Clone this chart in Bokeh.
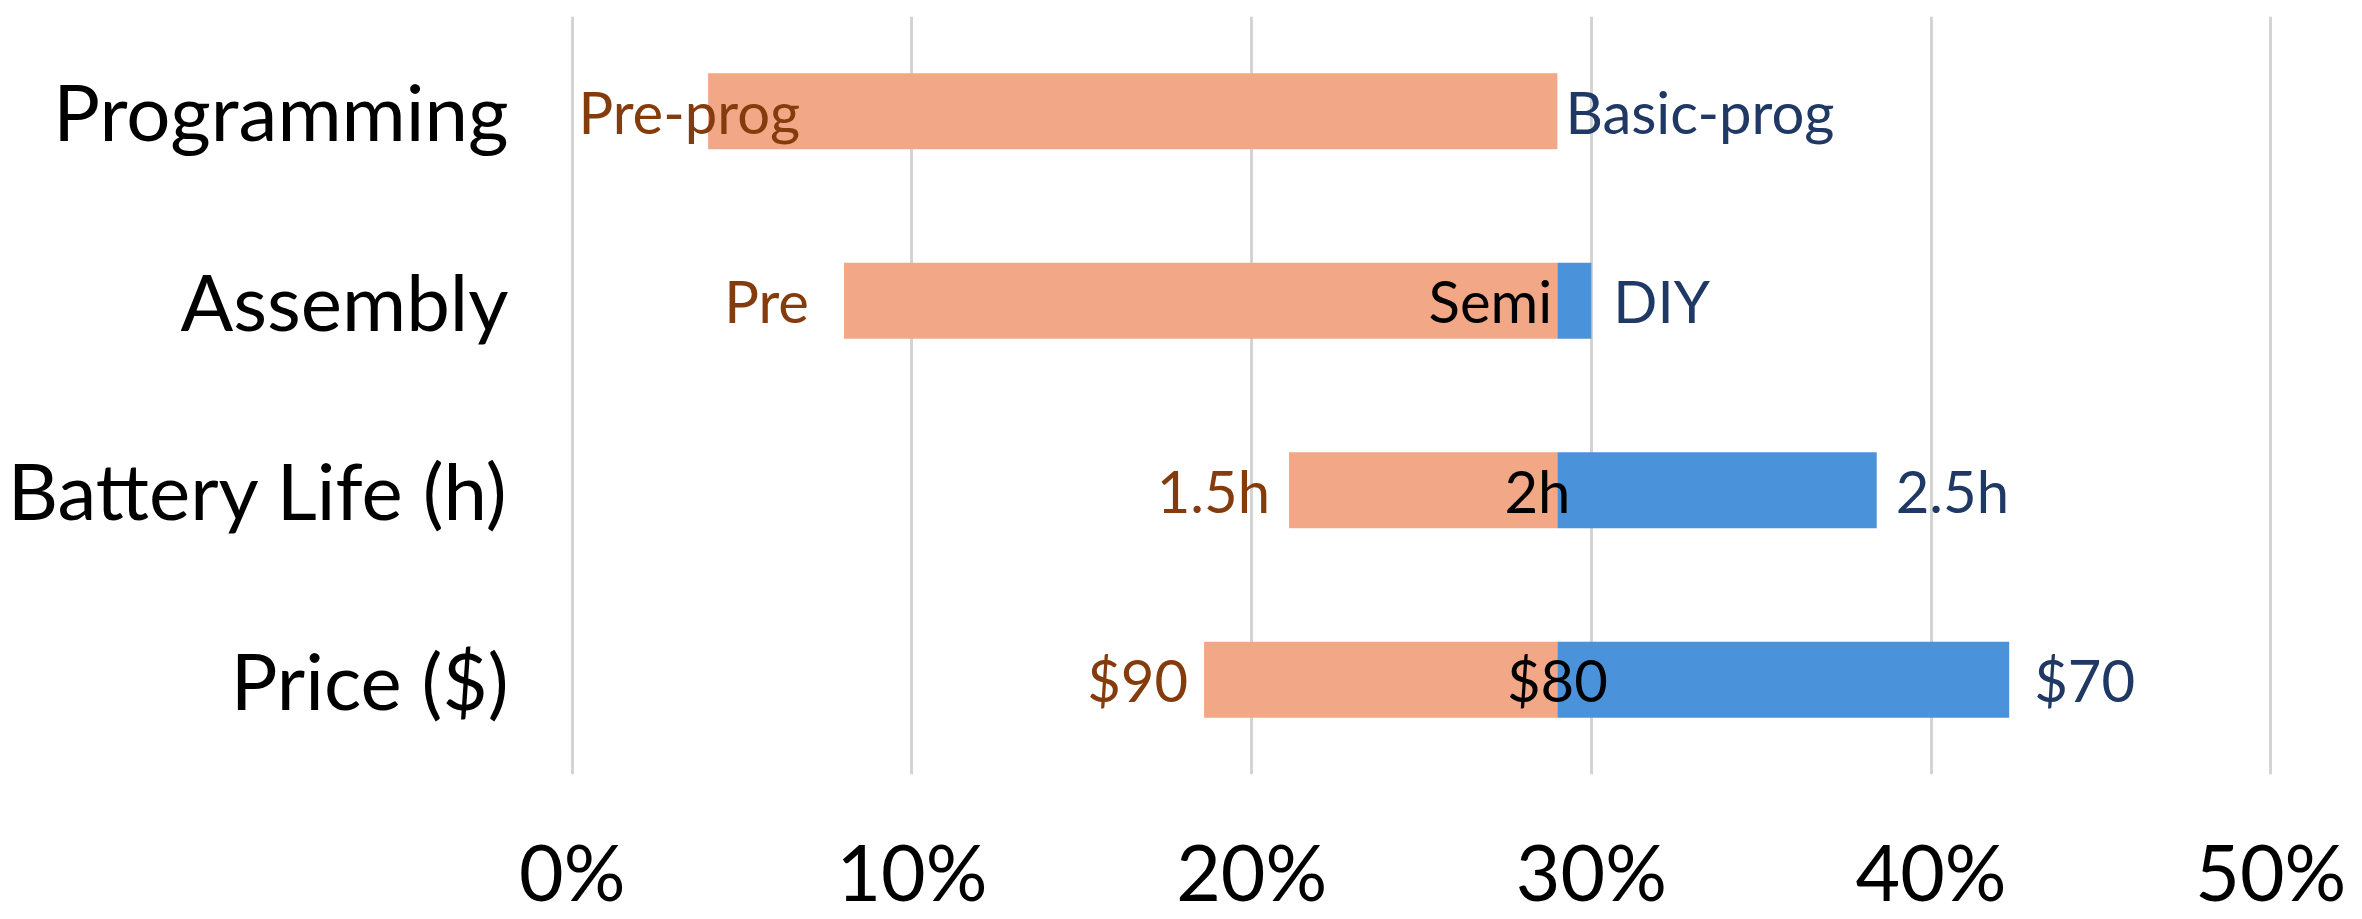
from bokeh.plotting import figure
from bokeh.models import ColumnDataSource, FixedTicker, NumeralTickFormatter, Range1d, FactorRange
from bokeh.core.properties import value
from bokeh.embed import file_html
from bokeh.resources import INLINE

# Attribute rows, top to bottom
categories = ["Programming", "Assembly", "Battery Life (h)", "Price ($)"]

# Share of respondents (fraction): where each range starts, the shared baseline, where it ends
low_end = [0.040, 0.080, 0.211, 0.186]
baseline = [0.290, 0.290, 0.290, 0.290]
high_end = [0.290, 0.300, 0.384, 0.423]

# Level names at each end of the range and at the baseline
low_labels = ["Pre-prog", "Pre", "1.5h", "$90"]
mid_labels = ["", "Semi", "2h", "$80"]
high_labels = ["Basic-prog", "DIY", "2.5h", "$70"]

x_ticks = [0.0, 0.1, 0.2, 0.3, 0.4, 0.5]

ORANGE = "#F2A886"
BLUE = "#4A92DA"
ORANGE_TEXT = "#843C0C"
BLUE_TEXT = "#1F3864"
FONT = "Lato"

# pixel nudges for the labels
low_dx = [92, -35, -19, -16]
mid_dx = [0, -67, -20, 0]
high_dx = [8, 22, 19, 25]

src = ColumnDataSource(dict(
    cat=categories, low=low_end, base=baseline, high=high_end,
    low_lab=low_labels, mid_lab=mid_labels, high_lab=high_labels,
    low_dx=low_dx, mid_dx=mid_dx, high_dx=high_dx,
))

# a hair of padding so the 0% and 50% grid lines are drawn
pad = 0.0008
p = figure(
    width=2362, height=919,
    y_range=FactorRange(factors=list(reversed(categories))),
    x_range=Range1d(-pad, 0.5 + pad),
    output_backend="svg", toolbar_location=None,
    min_border_left=569, min_border_right=89, min_border_top=16, min_border_bottom=143,
)
p.outline_line_color = None
p.background_fill_color = "white"
p.border_fill_color = "white"

p.hbar(y="cat", left="low", right="base", height=0.4, source=src,
       fill_color=ORANGE, line_color=None)
p.hbar(y="cat", left="base", right="high", height=0.4, source=src,
       fill_color=BLUE, line_color=None)

p.text(x="low", y="cat", text="low_lab", x_offset="low_dx", source=src,
       text_align="right", text_baseline="middle",
       text_font=value(FONT), text_font_size=value("58px"), text_color=ORANGE_TEXT)
p.text(x="base", y="cat", text="mid_lab", x_offset="mid_dx", source=src,
       text_align="center", text_baseline="middle",
       text_font=value(FONT), text_font_size=value("58px"), text_color="black")
p.text(x="high", y="cat", text="high_lab", x_offset="high_dx", source=src,
       text_align="left", text_baseline="middle",
       text_font=value(FONT), text_font_size=value("58px"), text_color=BLUE_TEXT)

# axes
p.xaxis.ticker = FixedTicker(ticks=x_ticks)
p.xaxis.formatter = NumeralTickFormatter(format="0%")
for ax in (p.xaxis[0], p.yaxis[0]):
    ax.axis_line_color = None
    ax.major_tick_line_color = None
    ax.minor_tick_line_color = None
    ax.major_label_text_font = FONT
    ax.major_label_text_color = "black"
p.xaxis.major_label_text_font_size = "77px"
p.yaxis.major_label_text_font_size = "78px"
p.xaxis.major_label_standoff = 44
p.yaxis.major_label_standoff = 55

p.xgrid.ticker = FixedTicker(ticks=x_ticks)
p.xgrid.grid_line_color = "#D4D4D4"
p.xgrid.grid_line_width = 3
p.ygrid.grid_line_color = None

open("out.html", "w").write(file_html(p, INLINE))
